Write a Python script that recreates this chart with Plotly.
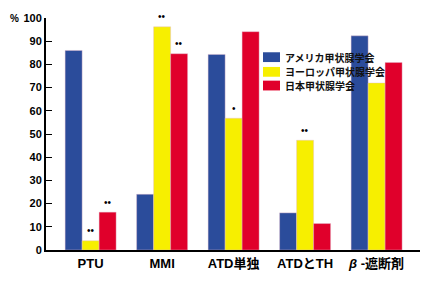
import plotly.graph_objects as go

categories = ["PTU", "MMI", "ATD単独", "ATDとTH", "β-遮断剤"]
category_labels = ["PTU", "MMI", "ATD単独", "ATDとTH", "<i>β</i> -遮断剤"]
series_names = ["アメリカ甲状腺学会", "ヨーロッパ甲状腺学会", "日本甲状腺学会"]
america = [86, 24, 84.3, 16, 92.3]
europe = [4, 96.2, 56.8, 47.3, 72]
japan = [16.3, 84.6, 94.1, 11.4, 80.8]
colors = ["#2B4C9B", "#F7EF00", "#E0002B"]
y_ticks = [0, 10, 20, 30, 40, 50, 60, 70, 80, 90, 100]
# significance marks: (category index, series index, mark)
marks = [(0, 1, "••"), (0, 2, "••"), (1, 1, "••"), (1, 2, "••"), (2, 1, "•"), (3, 1, "••")]

W, H = 432, 283
L, R, T, B = 46, 12, 15, 31
PW, PH = W - L - R, H - T - B

def px(x):
    return (x - L) / PW

def py(y):
    return (H - B - y) / PH

values = [america, europe, japan]
fig = go.Figure()
for name, vals, col in zip(series_names, values, colors):
    fig.add_trace(go.Bar(
        x=list(range(len(categories))), y=vals, name=name,
        marker=dict(color=col, line=dict(color="rgba(225,185,205,0.7)", width=0.6)),
        showlegend=False,
    ))

bar_w = 0.238
for ci, si, m in marks:
    fig.add_annotation(
        x=ci + (si - 1) * bar_w, y=values[si][ci], xref="x", yref="y",
        text=m, showarrow=False, yshift=10, yanchor="middle",
        font=dict(size=10, color="#000", family="Liberation Sans"),
    )

# manual legend
leg_y = [55, 70, 84]
for name, col, yc in zip(series_names, colors, leg_y):
    fig.add_shape(type="rect", xref="paper", yref="paper",
                  x0=px(263), x1=px(280), y0=py(yc + 5), y1=py(yc - 5),
                  fillcolor=col, line=dict(width=0))
    fig.add_annotation(x=px(283), y=py(yc), xref="paper", yref="paper",
                       text=name, showarrow=False, xanchor="left", yanchor="middle",
                       font=dict(size=10, color="#111", family="Noto Sans CJK JP", weight="bold"))

fig.add_annotation(x=px(14), y=py(16), xref="paper", yref="paper", text="%",
                   showarrow=False, xanchor="center", yanchor="middle",
                   font=dict(size=10, color="#000", family="Liberation Sans", weight="bold"))

fig.update_layout(
    width=W, height=H,
    margin=dict(l=L, r=R, t=T, b=B),
    paper_bgcolor="white", plot_bgcolor="white",
    barmode="group", bargap=0.287, bargroupgap=0,
    xaxis=dict(
        range=[-0.624, 4.607], tickmode="array",
        tickvals=list(range(len(categories))), ticktext=category_labels,
        showline=True, linecolor="#000", linewidth=2, ticks="",
        showgrid=False, zeroline=False,
        tickfont=dict(size=13, color="#000", family="Liberation Sans, Noto Sans CJK JP", weight="bold"),
    ),
    yaxis=dict(
        range=[0, 100], tickmode="array", tickvals=y_ticks,
        showline=True, linecolor="#000", linewidth=2,
        ticks="inside", ticklen=6, tickcolor="#000", tickwidth=1,
        showgrid=False, zeroline=False,
        tickfont=dict(size=11, color="#000", family="Liberation Sans", weight="bold"),
    ),
)

fig.write_html("out.html")
